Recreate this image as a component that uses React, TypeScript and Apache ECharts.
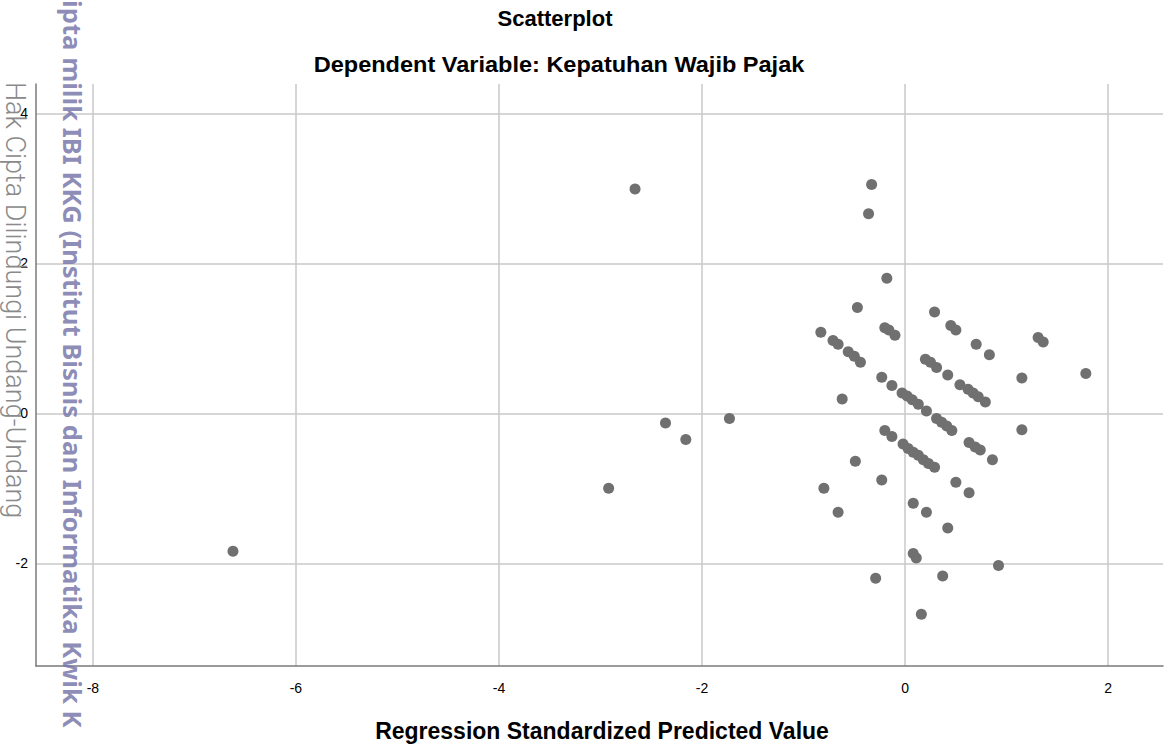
import React, { useEffect, useRef } from "react";
import * as echarts from "echarts";

const chartTitle = "Scatterplot";
const chartSubtitle = "Dependent Variable: Kepatuhan Wajib Pajak";
const xAxisTitle = "Regression Standardized Predicted Value";
const watermarkGray = "Hak Cipta Dilindungi Undang-Undang";
const watermarkBlue = "ipta milik IBI KKG (Institut Bisnis dan Informatika Kwik K";

// Regression standardized predicted value (x)
const predicted = [
  -6.62, -2.92, -2.66, -2.36, -2.16, -1.73, -0.83, -0.8, -0.71, -0.66,
  -0.66, -0.62, -0.56, -0.5, -0.49, -0.47, -0.44, -0.36, -0.33, -0.29,
  -0.23, -0.23, -0.2, -0.2, -0.18, -0.16, -0.13, -0.13, -0.1, -0.03,
  -0.02, 0.02, 0.03, 0.07, 0.08, 0.08, 0.08, 0.11, 0.13, 0.13,
  0.16, 0.18, 0.2, 0.21, 0.21, 0.23, 0.25, 0.29, 0.29, 0.31,
  0.31, 0.36, 0.37, 0.41, 0.42, 0.42, 0.45, 0.46, 0.5, 0.5,
  0.54, 0.62, 0.63, 0.63, 0.67, 0.69, 0.7, 0.72, 0.74, 0.79,
  0.83, 0.86, 0.92, 1.15, 1.15, 1.31, 1.36, 1.78,
];

// Regression standardized residual (y)
const residual = [
  -1.84, -1.0, 2.99, -0.13, -0.35, -0.07, 1.08, -1.0, 0.97, 0.92,
  -1.32, 0.19, 0.82, 0.76, -0.64, 1.41, 0.68, 2.66, 3.05, -2.2,
  0.48, -0.89, 1.14, -0.23, 1.8, 1.11, 0.37, -0.31, 1.04, 0.27,
  -0.41, 0.23, -0.47, 0.18, -0.52, -1.2, -1.87, -1.93, 0.12, -0.56,
  -2.68, -0.62, 0.72, 0.03, -1.32, -0.67, 0.68, 1.35, -0.72, 0.61,
  -0.07, -0.12, -2.17, -0.17, 0.51, -1.53, 1.17, -0.23, 1.11, -0.92,
  0.38, 0.32, -0.39, -1.06, 0.27, -0.45, 0.92, 0.22, -0.49, 0.15,
  0.78, -0.62, -2.03, 0.47, -0.22, 1.01, 0.95, 0.53,
];

const FONT = "Liberation Sans, Arial, sans-serif";

export default function App() {
  const ref = useRef<HTMLDivElement>(null);

  useEffect(() => {
    if (!ref.current) return;
    const chart = echarts.init(ref.current, undefined, { renderer: "svg" });
    const points = predicted.map((x, i) => [x, residual[i]]);
    chart.setOption({
      animation: false,
      backgroundColor: "#ffffff",
      grid: { left: 36, right: 9, top: 84, bottom: 85, containLabel: false },
      xAxis: {
        type: "value",
        min: -8.56,
        max: 2.54,
        splitNumber: 5,
        axisLine: { show: true, onZero: false, lineStyle: { color: "#7a7a7a", width: 1.5 } },
        axisTick: { show: false },
        axisLabel: {
          showMinLabel: false,
          showMaxLabel: false,
          color: "#000",
          fontFamily: FONT,
          fontSize: 14,
          margin: 15,
        },
        splitLine: {
          show: true,
          showMinLine: false,
          showMaxLine: false,
          lineStyle: { color: "#c8c8c8", width: 1.5 },
        },
      },
      yAxis: {
        type: "value",
        min: -3.37,
        max: 4.39,
        splitNumber: 4,
        axisLine: { show: true, onZero: false, lineStyle: { color: "#7a7a7a", width: 1.5 } },
        axisTick: { show: false },
        axisLabel: {
          showMinLabel: false,
          showMaxLabel: false,
          color: "#000",
          fontFamily: FONT,
          fontSize: 14,
          margin: 8,
        },
        splitLine: {
          show: true,
          showMinLine: false,
          showMaxLine: false,
          lineStyle: { color: "#c8c8c8", width: 1.5 },
        },
      },
      series: [
        {
          type: "scatter",
          data: points,
          symbol: "circle",
          symbolSize: 11,
          itemStyle: { color: "#707070", opacity: 1 },
        },
      ],
      graphic: [
        {
          type: "text",
          x: 555,
          y: 7,
          style: {
            text: chartTitle,
            fontFamily: FONT,
            fontWeight: "bold",
            fontSize: 22,
            fill: "#000",
            textAlign: "center",
            textVerticalAlign: "top",
          },
        },
        {
          type: "text",
          x: 559,
          y: 53,
          scaleX: 1.07,
          style: {
            text: chartSubtitle,
            fontFamily: FONT,
            fontWeight: "bold",
            fontSize: 22,
            fill: "#000",
            textAlign: "center",
            textVerticalAlign: "top",
          },
        },
        {
          type: "text",
          x: 602,
          y: 719,
          style: {
            text: xAxisTitle,
            fontFamily: FONT,
            fontWeight: "bold",
            fontSize: 23,
            fill: "#000",
            textAlign: "center",
            textVerticalAlign: "top",
          },
        },
        {
          type: "text",
          x: 15,
          y: 82,
          rotation: -Math.PI / 2,
          z: 100,
          style: {
            text: watermarkGray,
            fontFamily: "Roboto, DejaVu Sans, sans-serif",
            fontWeight: 300,
            fontSize: 27,
            fill: "#8a8a8a",
            textAlign: "left",
            textVerticalAlign: "middle",
          },
        },
        {
          type: "text",
          x: 72,
          y: 0,
          rotation: -Math.PI / 2,
          z: 100,
          style: {
            text: watermarkBlue,
            fontFamily: "Noto Sans, DejaVu Sans, sans-serif",
            fontWeight: "bold",
            fontSize: 25.7,
            fill: "rgba(120,120,170,0.85)",
            textAlign: "left",
            textVerticalAlign: "middle",
          },
        },
      ],
    });
    return () => chart.dispose();
  }, []);

  return (
    <div
      ref={ref}
      style={{ position: "fixed", left: 0, top: 0, width: 1172, height: 751 }}
    />
  );
}
